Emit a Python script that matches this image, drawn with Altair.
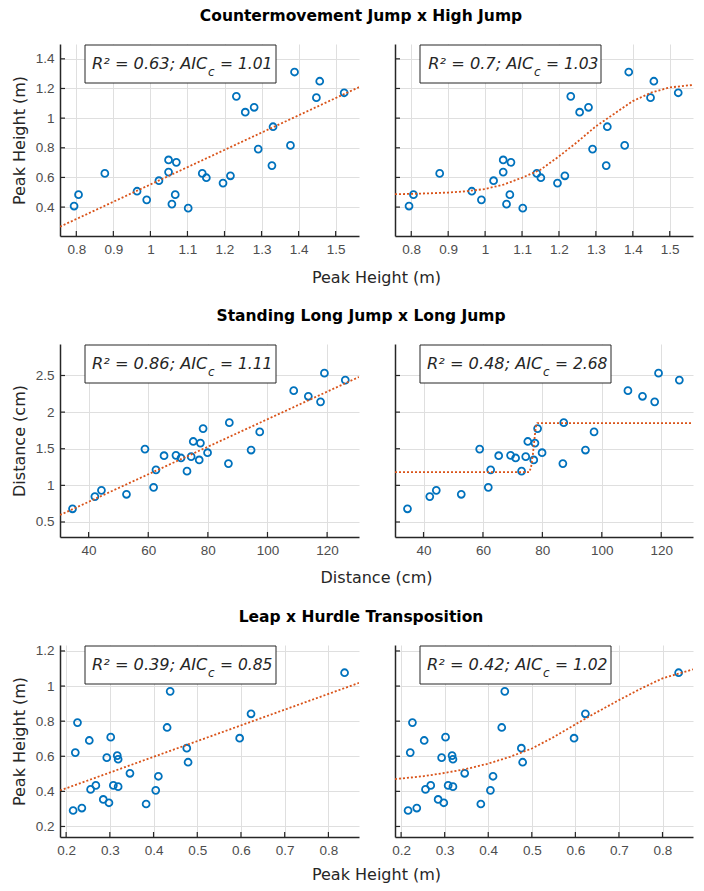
import altair as alt
import pandas as pd

BLUE = "#0072BD"
ORANGE = "#D95319"
DARK = "#262626"
GRID = "#dfdfdf"
LABEL = "#4d4d4d"

# ---------------- Row 1: Countermovement Jump x High Jump ----------------
cmj_x = [0.794, 0.806, 0.877, 0.964, 0.990, 1.023, 1.049, 1.049, 1.070, 1.058, 1.067, 1.102,
         1.140, 1.151, 1.196, 1.216, 1.232, 1.256, 1.280, 1.291, 1.331, 1.328, 1.378, 1.389,
         1.448, 1.457, 1.523]
cmj_y = [0.407, 0.484, 0.627, 0.507, 0.449, 0.578, 0.718, 0.636, 0.702, 0.420, 0.484, 0.393,
         0.627, 0.598, 0.562, 0.611, 1.147, 1.040, 1.073, 0.791, 0.942, 0.680, 0.816, 1.311,
         1.138, 1.249, 1.171]
cmj_lin_x = [0.756, 1.563]
cmj_lin_y = [0.268, 1.209]
cmj_sig_x = [0.756, 0.80, 0.85, 0.90, 0.95, 1.00, 1.05, 1.10, 1.15, 1.20, 1.25, 1.30, 1.35,
             1.40, 1.45, 1.50, 1.563]
cmj_sig_y = [0.487, 0.489, 0.493, 0.498, 0.507, 0.522, 0.552, 0.598, 0.652, 0.742, 0.840, 0.945,
             1.030, 1.115, 1.172, 1.207, 1.224]
cmj_xticks = [0.8, 0.9, 1.0, 1.1, 1.2, 1.3, 1.4, 1.5]
cmj_yticks = [0.4, 0.6, 0.8, 1.0, 1.2, 1.4]
cmj_xdom = [0.756, 1.563]
cmj_ydom = [0.205, 1.5]

# ---------------- Row 2: Standing Long Jump x Long Jump ----------------
slj_x = [34.6, 42.1, 44.3, 52.7, 58.9, 61.8, 62.6, 65.3, 69.3, 71.0, 73.0, 74.4, 75.1, 77.5,
         77.1, 78.4, 79.9, 86.9, 87.2, 94.5, 97.4, 108.8, 113.7, 117.8, 119.1, 126.1]
slj_y = [0.680, 0.847, 0.932, 0.878, 1.495, 0.973, 1.212, 1.405, 1.410, 1.374, 1.194, 1.392,
         1.599, 1.577, 1.347, 1.775, 1.446, 1.297, 1.856, 1.482, 1.730, 2.293, 2.216, 2.140,
         2.532, 2.437]
slj_lin_x = [30.4, 130.7]
slj_lin_y = [0.595, 2.480]
slj_step_x = [30.4, 75.6, 76.2, 76.8, 77.3, 77.8, 78.3, 130.7]
slj_step_y = [1.180, 1.180, 1.250, 1.420, 1.620, 1.800, 1.851, 1.851]
slj_xticks = [40, 60, 80, 100, 120]
slj_yticks = [0.5, 1.0, 1.5, 2.0, 2.5]
slj_xdom = [30.4, 130.7]
slj_ydom = [0.295, 2.93]

# ---------------- Row 3: Leap x Hurdle Transposition ----------------
leap_x = [0.216, 0.236, 0.221, 0.226, 0.253, 0.256, 0.268, 0.285, 0.298, 0.293, 0.302, 0.308,
          0.319, 0.317, 0.319, 0.346, 0.383, 0.405, 0.411, 0.431, 0.438, 0.476, 0.479, 0.597,
          0.623, 0.837]
leap_y = [0.291, 0.305, 0.621, 0.792, 0.690, 0.411, 0.434, 0.354, 0.335, 0.592, 0.709, 0.434,
          0.427, 0.604, 0.583, 0.503, 0.328, 0.406, 0.486, 0.764, 0.970, 0.646, 0.566, 0.703,
          0.842, 1.076]
leap_lin_x = [0.186, 0.870]
leap_lin_y = [0.405, 1.018]
leap_cur_x = [0.186, 0.25, 0.30, 0.35, 0.40, 0.45, 0.50, 0.55, 0.60, 0.65, 0.70, 0.75, 0.80, 0.870]
leap_cur_y = [0.470, 0.486, 0.505, 0.528, 0.558, 0.597, 0.644, 0.709, 0.782, 0.852, 0.920, 0.985,
              1.044, 1.095]
leap_xticks = [0.2, 0.3, 0.4, 0.5, 0.6, 0.7, 0.8]
leap_yticks = [0.2, 0.4, 0.6, 0.8, 1.0, 1.2]
leap_xdom = [0.186, 0.870]
leap_ydom = [0.14, 1.234]

# ---------------- annotation texts ----------------
row_titles = ["Countermovement Jump x High Jump", "Standing Long Jump x Long Jump",
              "Leap x Hurdle Transposition"]
x_labels = ["Peak Height (m)", "Distance (cm)", "Peak Height (m)"]
y_labels = ["Peak Height (m)", "Distance (cm)", "Peak Height (m)"]
r2_vals = [["0.63", "0.7"], ["0.86", "0.48"], ["0.39", "0.42"]]
aic_vals = [["1.01", "1.03"], ["1.11", "2.68"], ["0.85", "1.02"]]

ONE = pd.DataFrame({"a": [0]})
TXT = "DejaVu Sans"


def panel(px, py, fx, fy, xdom, ydom, xt, yt, W, H, r2, aic, left, ylabel=None,
          title=None, xlabel=None, xlab_dy=40):
    xs = alt.Scale(domain=xdom, nice=False, zero=False)
    ys = alt.Scale(domain=ydom, nice=False, zero=False)
    xaxis = alt.Axis(values=xt, format="~r", title=None, grid=True, labelPadding=6)
    if left:
        yaxis = alt.Axis(values=yt, format="~r", title=ylabel, grid=True, labelPadding=6,
                         titleX=-41, titleY=H / 2, titleAngle=270, titleAlign="center",
                         titleBaseline="middle")
    else:
        yaxis = alt.Axis(values=yt, format="~r", title=None, grid=True, labels=False)

    X = alt.X("x:Q", scale=xs, axis=xaxis)
    Y = alt.Y("y:Q", scale=ys, axis=yaxis)

    pts = alt.Chart(pd.DataFrame({"x": px, "y": py})).mark_point(
        filled=False, color=BLUE, size=48, strokeWidth=1.8, opacity=1
    ).encode(x=X, y=Y)

    fit = alt.Chart(pd.DataFrame({"x": fx, "y": fy})).mark_line(
        color=ORANGE, strokeDash=[2, 2], strokeWidth=1.8, clip=True
    ).encode(x=X, y=Y)

    xtk = alt.Chart(pd.DataFrame({"x": xt})).mark_rule(color=DARK, strokeWidth=1.2).encode(
        x=X, y=alt.value(H), y2=alt.value(H - 5))
    ytk = alt.Chart(pd.DataFrame({"y": yt})).mark_rule(color=DARK, strokeWidth=1.2).encode(
        y=Y, x=alt.value(0), x2=alt.value(5))

    short = len(r2) < 4
    box_w = 181 if short else 191
    anchor = 25 + (113.4 if short else 122.4)
    box = alt.Chart(ONE).mark_rect(fill="white", stroke=DARK, strokeWidth=1).encode(
        x=alt.value(25), x2=alt.value(25 + box_w), y=alt.value(1), y2=alt.value(39))
    t1 = alt.Chart(ONE).mark_text(
        text=f"R\u00b2 = {r2}; AIC", align="right", baseline="alphabetic", font=TXT,
        fontStyle="italic", fontSize=16.2, color=DARK
    ).encode(x=alt.value(anchor), y=alt.value(25))
    t2 = alt.Chart(ONE).mark_text(
        text="c", align="left", baseline="alphabetic", font=TXT, fontStyle="italic",
        fontSize=12, color=DARK
    ).encode(x=alt.value(anchor + 0.5), y=alt.value(32))
    t3 = alt.Chart(ONE).mark_text(
        text=f"= {aic}", align="left", baseline="alphabetic", font=TXT, fontStyle="italic",
        fontSize=15.5, color=DARK
    ).encode(x=alt.value(anchor + 12.6), y=alt.value(25))

    layers = [pts, fit, xtk, ytk, box, t1, t2, t3]
    if title:
        layers.append(alt.Chart(ONE).mark_text(
            text=title, align="center", baseline="middle", font=TXT, fontWeight="bold",
            fontSize=15.5, color="black"
        ).encode(x=alt.value(301), y=alt.value(-28)))
    if xlabel:
        layers.append(alt.Chart(ONE).mark_text(
            text=xlabel, align="center", baseline="middle", font=TXT, fontSize=16, color=DARK
        ).encode(x=alt.value(316.5), y=alt.value(H + xlab_dy)))
    return alt.layer(*layers).properties(width=W, height=H)


rows_spec = [
    (cmj_x, cmj_y, cmj_lin_x, cmj_lin_y, cmj_sig_x, cmj_sig_y, cmj_xdom, cmj_ydom,
     cmj_xticks, cmj_yticks, 192, 42),
    (slj_x, slj_y, slj_lin_x, slj_lin_y, slj_step_x, slj_step_y, slj_xdom, slj_ydom,
     slj_xticks, slj_yticks, 193, 41),
    (leap_x, leap_y, leap_lin_x, leap_lin_y, leap_cur_x, leap_cur_y, leap_xdom, leap_ydom,
     leap_xticks, leap_yticks, 192, 38),
]

panels = []
for i, (px, py, lx, ly, cx, cy, xd, yd, xt, yt, H, dy) in enumerate(rows_spec):
    panels.append(panel(px, py, lx, ly, xd, yd, xt, yt, 299, H, r2_vals[i][0], aic_vals[i][0],
                        True, ylabel=y_labels[i], title=row_titles[i], xlabel=x_labels[i],
                        xlab_dy=dy))
    panels.append(panel(px, py, cx, cy, xd, yd, xt, yt, 298, H, r2_vals[i][1], aic_vals[i][1],
                        False))

chart = alt.concat(*panels, columns=2, spacing={"row": 108, "column": 36},
                   bounds="flush").properties(
    padding={"left": 3, "top": 1, "right": 2, "bottom": 0}
).configure_view(stroke=None).configure_axis(
    domainColor=DARK, domainWidth=1.5, gridColor=GRID, gridWidth=1, ticks=False,
    labelFont="Liberation Sans", labelFontSize=13.5, labelColor=LABEL,
    titleFont=TXT, titleFontSize=16, titleFontWeight="normal", titleColor=DARK
)

chart.save("out.html", embed_options={"renderer": "svg", "actions": False})
